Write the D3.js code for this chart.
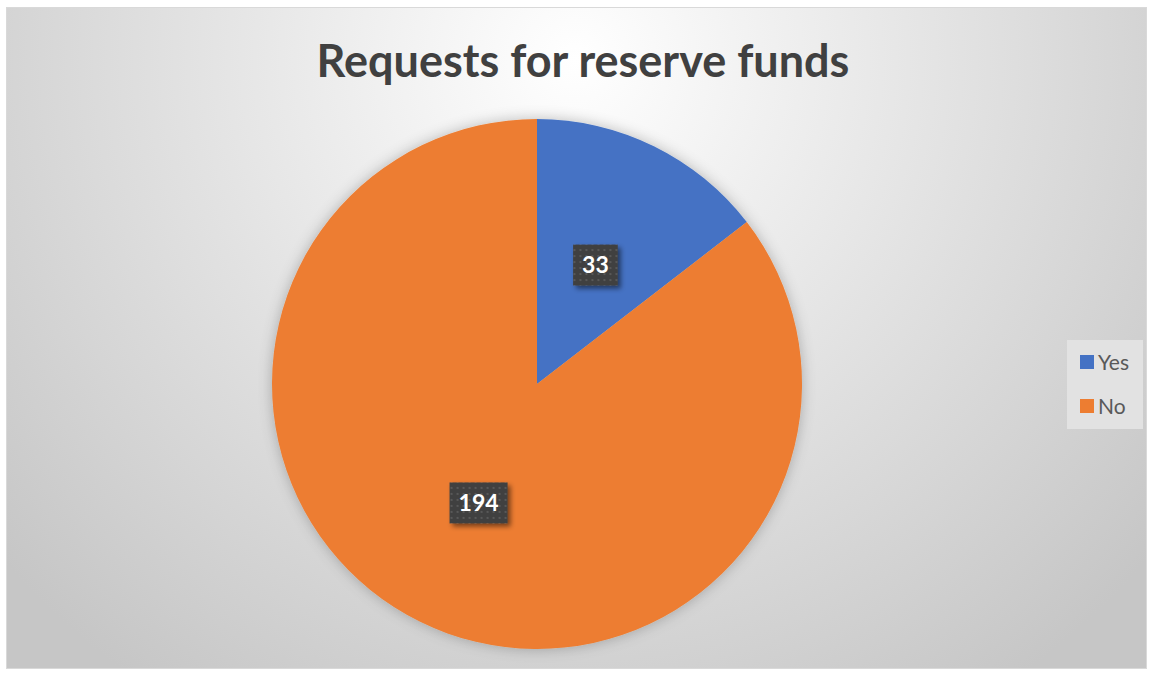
<!DOCTYPE html>
<html>
<head>
<meta charset="utf-8">
<script src="https://cdn.jsdelivr.net/npm/d3@7"></script>
<style>
  body { margin: 0; background: #fff; }
  svg { display: block; }
</style>
</head>
<body>
<svg id="chart" width="1151" height="674"></svg>
<script>
// chart data
var categories = ['Yes', 'No'];
var values = [33, 194];
var colors = ['#4472C4', '#ED7D31'];
var title = 'Requests for reserve funds';

var width = 1151, height = 674;
var cx = 537, cy = 384, radius = 265;

var svg = d3.select('#chart');
var defs = svg.append('defs');

// background gradient (light near the title, grey in the corners)
var bg = defs.append('radialGradient')
  .attr('id', 'bgGrad')
  .attr('gradientUnits', 'userSpaceOnUse')
  .attr('cx', 575).attr('cy', 60).attr('r', 760);
bg.append('stop').attr('offset', '0%').attr('stop-color', '#ffffff');
bg.append('stop').attr('offset', '100%').attr('stop-color', '#c6c6c6');

// soft glow behind the pie
var glow = defs.append('filter').attr('id', 'pieShadow')
  .attr('x', '-20%').attr('y', '-20%').attr('width', '140%').attr('height', '140%');
glow.append('feGaussianBlur').attr('in', 'SourceAlpha').attr('stdDeviation', 7).attr('result', 'blur');
glow.append('feFlood').attr('flood-color', '#000').attr('flood-opacity', 0.25);
glow.append('feComposite').attr('in2', 'blur').attr('operator', 'in').attr('result', 'shadow');
var m = glow.append('feMerge');
m.append('feMergeNode').attr('in', 'shadow');
m.append('feMergeNode').attr('in', 'SourceGraphic');

// label box shadow
var lblShadow = defs.append('filter').attr('id', 'lblShadow')
  .attr('x', '-30%').attr('y', '-30%').attr('width', '170%').attr('height', '170%');
lblShadow.append('feGaussianBlur').attr('in', 'SourceAlpha').attr('stdDeviation', 2.5).attr('result', 'b');
lblShadow.append('feOffset').attr('in', 'b').attr('dx', 3).attr('dy', 3).attr('result', 'o');
lblShadow.append('feFlood').attr('flood-color', '#000').attr('flood-opacity', 0.5);
lblShadow.append('feComposite').attr('in2', 'o').attr('operator', 'in').attr('result', 's');
var m2 = lblShadow.append('feMerge');
m2.append('feMergeNode').attr('in', 's');
m2.append('feMergeNode').attr('in', 'SourceGraphic');

// dotted fill for the data labels
var dots = defs.append('pattern').attr('id', 'dots')
  .attr('patternUnits', 'userSpaceOnUse').attr('width', 6).attr('height', 6);
dots.append('rect').attr('width', 6).attr('height', 6).attr('fill', '#404040');
dots.append('rect').attr('x', 2).attr('y', 2).attr('width', 2).attr('height', 2).attr('fill', '#595959');

// chart area
svg.append('rect')
  .attr('x', 6.5).attr('y', 7.5)
  .attr('width', 1140).attr('height', 661)
  .attr('fill', 'url(#bgGrad)')
  .attr('stroke', '#d9d9d9').attr('stroke-width', 1);

// title
svg.append('text')
  .attr('x', 583).attr('y', 77)
  .attr('text-anchor', 'middle')
  .attr('font-family', 'Lato, "Open Sans", sans-serif')
  .attr('font-weight', 'bold')
  .attr('font-size', 45)
  .attr('fill', '#404040')
  .text(title);

// pie
var pie = d3.pie().sort(null).value(d => d);
var arc = d3.arc().innerRadius(0).outerRadius(radius);
var arcs = pie(values);

var g = svg.append('g').attr('transform', 'translate(' + cx + ',' + cy + ')');

g.append('g').attr('filter', 'url(#pieShadow)')
  .selectAll('path')
  .data(arcs)
  .enter()
  .append('path')
  .attr('d', arc)
  .attr('fill', (d, i) => colors[i]);

// data labels
var labels = g.selectAll('.lbl')
  .data(arcs)
  .enter()
  .append('g')
  .attr('class', 'lbl')
  .attr('transform', d => 'translate(' + arc.centroid(d) + ')');

labels.each(function (d) {
  var lg = d3.select(this);
  var t = lg.append('text')
    .attr('text-anchor', 'middle')
    .attr('dy', '0.36em')
    .attr('font-family', 'Lato, "Open Sans", sans-serif')
    .attr('font-weight', 'bold')
    .attr('font-size', 23)
    .attr('fill', '#ffffff')
    .text(d.data);
  var w = t.node().getComputedTextLength() + 18;
  var h = 41;
  lg.insert('rect', 'text')
    .attr('x', -w / 2).attr('y', -h / 2)
    .attr('width', w).attr('height', h)
    .attr('fill', 'url(#dots)')
    .attr('filter', 'url(#lblShadow)');
});

// legend
var legend = svg.append('g').attr('transform', 'translate(1067,340)');
legend.append('rect')
  .attr('width', 76).attr('height', 89)
  .attr('fill', '#e2e2e2');

var items = legend.selectAll('.item')
  .data(categories)
  .enter()
  .append('g')
  .attr('class', 'item')
  .attr('transform', (d, i) => 'translate(13,' + (15 + i * 44) + ')');

items.append('rect')
  .attr('width', 14).attr('height', 14)
  .attr('fill', (d, i) => colors[i]);

items.append('text')
  .attr('x', 18).attr('y', 15)
  .attr('font-family', 'Lato, "Open Sans", sans-serif')
  .attr('font-size', 21)
  .attr('fill', '#595959')
  .text(d => d);
</script>
</body>
</html>
